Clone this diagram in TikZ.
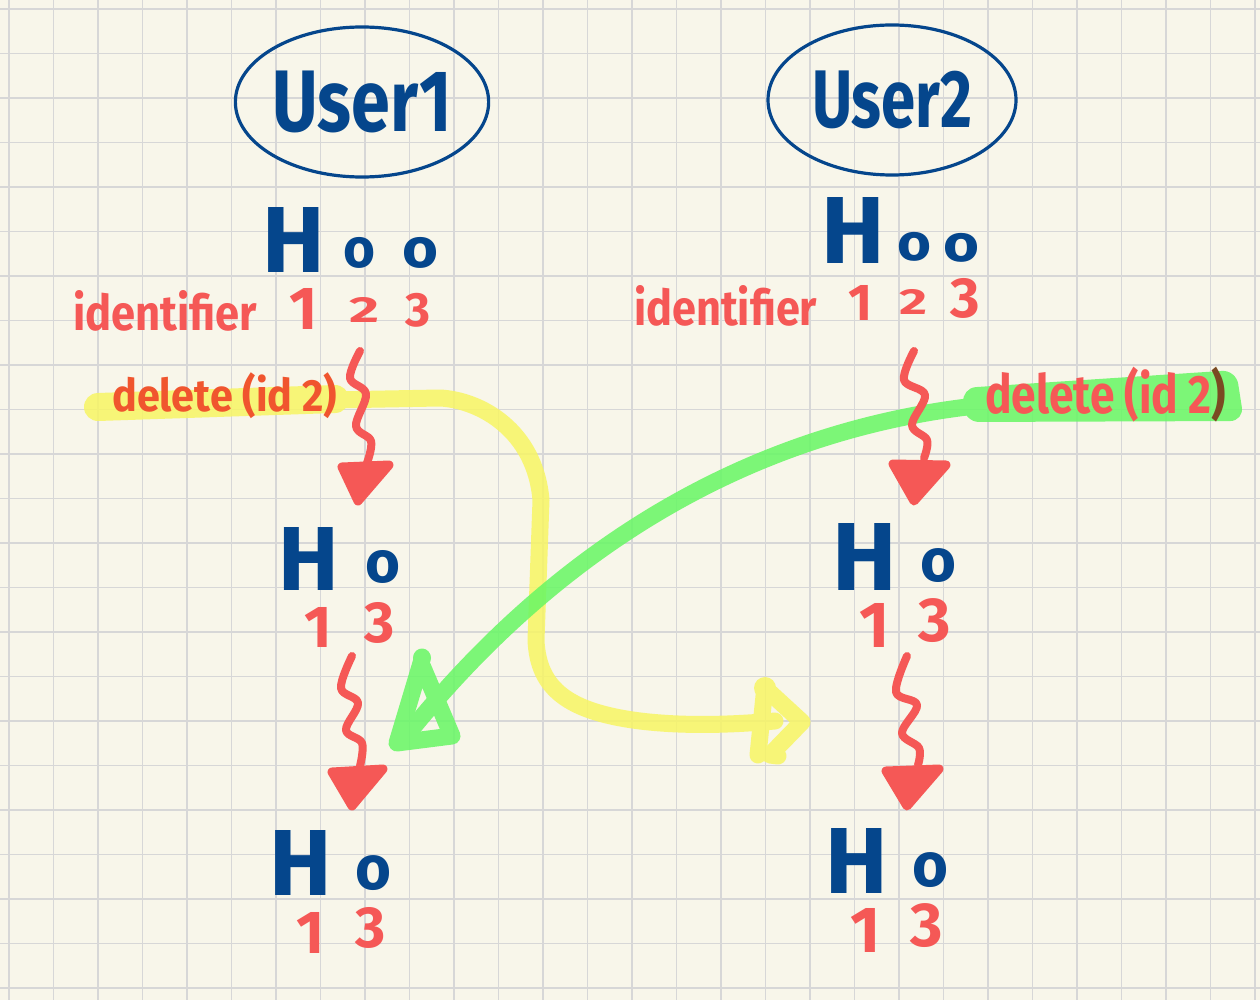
\documentclass[tikz,border=0pt]{standalone}
\usepackage{fontspec}
\setmainfont{Fira Sans}
\usepackage{graphicx}
\usetikzlibrary{shapes.geometric}
\definecolor{paper}{HTML}{F8F6EA}
\definecolor{gridc}{HTML}{D7D7D7}
\definecolor{inkblue}{HTML}{05468C}
\definecolor{inkred}{HTML}{F55856}
\definecolor{inkorange}{HTML}{F0552E}
\definecolor{inkbrown}{HTML}{7A4A22}
\definecolor{hlyellow}{HTML}{F7F564}
\definecolor{hlgreen}{HTML}{67F764}
\newcommand{\fitH}[2]{\resizebox*{!}{#1pt}{\bfseries #2}}
\newcommand{\fitWH}[3]{\resizebox*{#1pt}{#2pt}{\bfseries #3}}
\tikzset{
  gridline/.style={draw=gridc, line width=1.8pt},
  bluetxt/.style={text=inkblue, inner sep=0pt, anchor=north},
  redtxt/.style={text=inkred, inner sep=0pt, anchor=north},
  lefttxt/.style={inner sep=0pt, anchor=north west},
  userel/.style={ellipse, draw=inkblue, line width=3.2pt, minimum width=248pt, minimum height=150pt, inner sep=0pt, text=inkblue},
  wavy/.style={draw=inkred, line width=8pt, line cap=round, line join=round},
  redhead/.style={draw=inkred, fill=inkred, line width=9pt, line join=round},
  hly/.style={draw=hlyellow, line cap=round, line join=round, line width=17pt},
  hlg/.style={draw=hlgreen, line cap=round, line join=round, line width=17pt},
}
\begin{document}
\begin{tikzpicture}[x=1pt,y=-1pt]
\useasboundingbox (0,0) rectangle (1260,1000);
\fill[paper] (0,0) rectangle (1260,1000);
\foreach \i in {0,...,28} \draw[gridline] ({9+44.5*\i},0) -- ({9+44.5*\i},1000);
\foreach \i in {0,...,22} \draw[gridline] (0,{9+44.5*\i}) -- (1260,{9+44.5*\i});

% yellow highlighter
\begin{scope}[transparency group, opacity=0.85]
  \draw[hly, line width=28pt] (98,407) -- (335,399);
  \draw[hly] (330,400) -- (440,398) .. controls (480,400) and (535,430) .. (541,500)
     -- (536,640) .. controls (538,690) and (570,712) .. (640,721)
     .. controls (690,727) and (740,724) .. (775,721);
  \draw[hly] (765,686) -- (758,755);
  \draw[hly] (765,688) -- (802,722) -- (770,755) -- (778,756);
  \fill[hlyellow] (765,688) circle (11);
\end{scope}

% green highlighter
\begin{scope}[transparency group, opacity=0.85]
  \fill[hlgreen, rounded corners=14pt] (962,388) -- (1236,370) -- (1244,421) -- (965,422) -- cycle;
  \draw[hlg] (967,407) .. controls (780,430) and (580,520) .. (407,735);
  \draw[hlg] (421,663) -- (397,743) -- (452,736) -- cycle;
  \draw[hlg] (421,665) -- (422,657);
  \fill[hlgreen] (422,658) circle (9);
\end{scope}

% user ellipses
\node[userel] (u1) at (362,102) {\fitWH{179}{62}{User1}};
\node[userel] (u2) at (892,100) {\fitWH{160}{58}{User2}};

% row 1 left
\node[bluetxt] (l1H) at (294,207) {\fitH{65}{H}};
\node[bluetxt] (l1o1) at (359,237) {\fitWH{32}{31}{o}};
\node[bluetxt] (l1o2) at (420,237) {\fitWH{36}{31}{o}};
\node[lefttxt, text=inkred] (l1id) at (73,290) {\resizebox{184pt}{40pt}{\bfseries identifier}};
\node[redtxt] (l1d1) at (304,288) {\fitH{41}{1}};
\node[redtxt] (l1d2) at (364,297) {\fitWH{30}{25}{2}};
\node[redtxt] (l1d3) at (418,293) {\fitH{34}{3}};
\node[lefttxt, text=inkorange] (l1del) at (112,372) {\fitWH{225}{46}{delete (id 2)}};

% row 1 right
\node[bluetxt] (r1H) at (853,197) {\fitH{66}{H}};
\node[bluetxt] (r1o1) at (914,232) {\fitWH{34}{29}{o}};
\node[bluetxt] (r1o2) at (961,233) {\fitWH{36}{29}{o}};
\node[lefttxt, text=inkred] (r1id) at (634,285) {\resizebox{183pt}{40pt}{\bfseries identifier}};
\node[redtxt] (r1d1) at (861,285) {\fitH{35}{1}};
\node[redtxt] (r1d2) at (913,289) {\fitWH{28}{25}{2}};
\node[redtxt] (r1d3) at (965,278) {\fitH{40}{3}};
\node[lefttxt] (r1del) at (985,367) {\fitWH{241}{55}{\color{inkred}delete (id 2\color{inkbrown})}};

% row 2
\node[bluetxt] (l2H) at (309,527) {\fitH{63}{H}};
\node[bluetxt] (l2o) at (383,550) {\fitWH{35}{33}{o}};
\node[redtxt] (l2d1) at (318,607) {\fitH{40}{1}};
\node[redtxt] (l2d3) at (380,602) {\fitH{41}{3}};
\node[bluetxt] (r2H) at (865,523) {\fitH{67}{H}};
\node[bluetxt] (r2o) at (938,548) {\fitWH{36}{34}{o}};
\node[redtxt] (r2d1) at (875,603) {\fitH{44}{1}};
\node[redtxt] (r2d3) at (935,598) {\fitH{44}{3}};

% row 3
\node[bluetxt] (l3H) at (301,830) {\fitH{65}{H}};
\node[bluetxt] (l3o) at (373,855) {\fitWH{36}{35}{o}};
\node[redtxt] (l3d1) at (311,912) {\fitH{41}{1}};
\node[redtxt] (l3d3) at (371,907) {\fitH{41}{3}};
\node[bluetxt] (r3H) at (857,828) {\fitH{65}{H}};
\node[bluetxt] (r3o) at (930,852) {\fitWH{36}{35}{o}};
\node[redtxt] (r3d1) at (866,908) {\fitH{44}{1}};
\node[redtxt] (r3d3) at (927,903) {\fitH{44}{3}};

% red wavy arrows
\draw[wavy] plot[smooth, tension=0.6] coordinates {(360,351) (350,378) (366,394) (356,426) (371,441) (367,463)};
\draw[redhead] (342,467) -- (389,465) -- (358,501) -- cycle;
\draw[wavy] plot[smooth, tension=0.6] coordinates {(352,656) (341,688) (358,703) (346,730) (362,743) (360,766)};
\draw[redhead] (332,772) -- (383,769) -- (352,806) -- cycle;
\draw[wavy] plot[smooth, tension=0.6] coordinates {(914,351) (904,380) (925,395) (912,425) (927,440) (924,458)};
\draw[redhead] (893,464) -- (946,465) -- (914,501) -- cycle;
\draw[wavy] plot[smooth, tension=0.6] coordinates {(907,656) (896,692) (917,705) (902,733) (919,748) (918,765)};
\draw[redhead] (886,771) -- (939,769) -- (907,806) -- cycle;
\end{tikzpicture}
\end{document}
